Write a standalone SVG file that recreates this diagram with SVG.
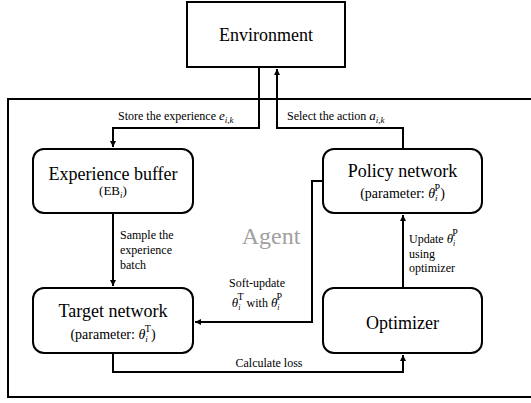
<svg xmlns="http://www.w3.org/2000/svg" width="531" height="403" viewBox="0 0 531 403" font-family="'Liberation Serif', 'Times New Roman', 'DejaVu Serif', serif">
<style>
.box{fill:#fff;stroke:#000;stroke-width:2}
.title{font-size:18px;text-anchor:middle}
.sub{font-size:14px;text-anchor:middle}
.lbl{font-size:12px}
.conn{fill:none;stroke:#000;stroke-width:2}
.it{font-style:italic}
</style>
<defs>
<marker id="arr" markerWidth="8" markerHeight="8" refX="6" refY="3" orient="auto" markerUnits="userSpaceOnUse">
<path d="M0,0 L6,3 L0,6 Z" fill="#000"/>
</marker>
</defs>
<g id="agent">
<rect x="8" y="99" width="530" height="298" fill="none" stroke="#000" stroke-width="2"/>
<text x="271" y="244" font-size="24" fill="#a0a0a0" text-anchor="middle">Agent</text>
</g>
<g id="environment">
<rect class="box" x="187" y="2" width="158" height="65"/>
<text class="title" x="266" y="41">Environment</text>
</g>
<g id="experience-buffer">
<rect class="box" x="33" y="149" width="160" height="64" rx="11"/>
<text class="title" x="113" y="180">Experience buffer</text>
<text x="113" y="195" font-size="13" text-anchor="middle">(EB<tspan class="it" font-size="9" dy="3">i</tspan><tspan dy="-3">)</tspan></text>
</g>
<g id="policy-network">
<rect class="box" x="323" y="149" width="159" height="64" rx="11"/>
<text class="title" x="402.5" y="177">Policy network</text>
<text class="sub" x="402.5" y="198">(parameter: <tspan class="it">θ</tspan><tspan class="it" font-size="9" dy="3">i</tspan><tspan font-size="10" dx="-3" dy="-10">P</tspan><tspan dy="7">)</tspan></text>
</g>
<g id="target-network">
<rect class="box" x="33" y="288" width="160" height="65" rx="11"/>
<text class="title" x="113" y="317">Target network</text>
<text class="sub" x="113" y="339">(parameter: <tspan class="it">θ</tspan><tspan class="it" font-size="9" dy="3">i</tspan><tspan font-size="10" dx="-3" dy="-10">T</tspan><tspan dy="7">)</tspan></text>
</g>
<g id="optimizer">
<rect class="box" x="323" y="288" width="159" height="65" rx="11"/>
<text class="title" x="402.5" y="329">Optimizer</text>
</g>
<g id="connectors">
<path class="conn" d="M259,67 V128 H113 V147" marker-end="url(#arr)"/>
<path class="conn" d="M403,149 V128 H277 V69" marker-end="url(#arr)"/>
<path class="conn" d="M113,213 V286" marker-end="url(#arr)"/>
<path class="conn" d="M403,288 V215" marker-end="url(#arr)"/>
<path class="conn" d="M323,181 H312 V322 H195" marker-end="url(#arr)"/>
<path class="conn" d="M113,353 V372 H403 V355" marker-end="url(#arr)"/>
<text class="lbl" x="118" y="120">Store the experience <tspan class="it" font-size="13">e</tspan><tspan class="it" font-size="9" dy="3">i,k</tspan></text>
<text class="lbl" x="287" y="120">Select the action <tspan class="it" font-size="13">a</tspan><tspan class="it" font-size="9" dy="3">i,k</tspan></text>
<text class="lbl" x="120" y="239">Sample the</text>
<text class="lbl" x="120" y="254">experience</text>
<text class="lbl" x="120" y="269">batch</text>
<text class="lbl" x="409" y="243">Update <tspan class="it" font-size="13">θ</tspan><tspan class="it" font-size="8" dy="3">i</tspan><tspan font-size="10" dx="-3" dy="-10">P</tspan></text>
<text class="lbl" x="409" y="258">using</text>
<text class="lbl" x="409" y="272">optimizer</text>
<text class="lbl" x="257" y="287" text-anchor="middle">Soft-update</text>
<text class="lbl" x="257" y="307" text-anchor="middle"><tspan class="it" font-size="13">θ</tspan><tspan class="it" font-size="8" dy="3">i</tspan><tspan font-size="10" dx="-3" dy="-10">T</tspan><tspan dy="7"> with </tspan><tspan class="it" font-size="13">θ</tspan><tspan class="it" font-size="8" dy="3">i</tspan><tspan font-size="10" dx="-3" dy="-10">P</tspan></text>
<text class="lbl" x="269" y="367" text-anchor="middle">Calculate loss</text>
</g>
</svg>
